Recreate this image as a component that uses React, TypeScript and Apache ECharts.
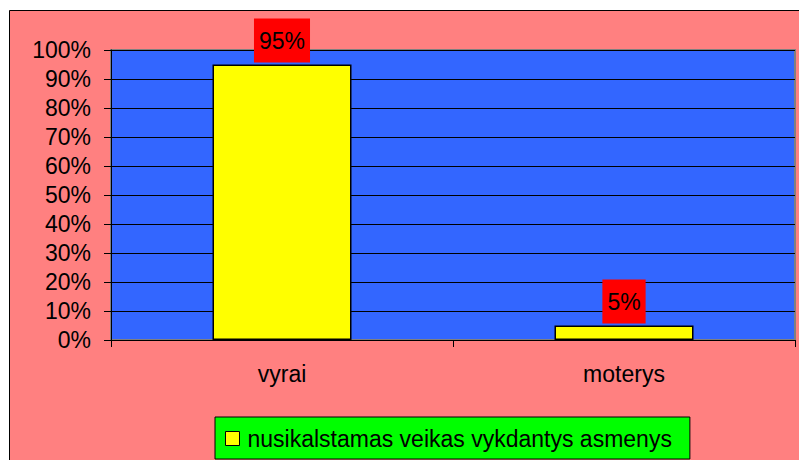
import React, { useEffect, useRef } from "react";
import * as echarts from "echarts";

const categories = ["vyrai", "moterys"];
const values = [95, 5];
const seriesName = "nusikalstamas veikas vykdantys asmenys";
const yMin = 0;
const yMax = 100;
const yInterval = 10;

const FONT = "'Liberation Sans', Arial, sans-serif";

export default function App() {
  const ref = useRef<HTMLDivElement>(null);
  useEffect(() => {
    if (!ref.current) return;
    const chart = echarts.init(ref.current, undefined, { renderer: "svg" });
    chart.setOption({
      animation: false,
      backgroundColor: "#FFFFFF",
      textStyle: { fontFamily: FONT },
      graphic: [
        {
          type: "rect",
          z: -10,
          silent: true,
          shape: { x: 9.5, y: 10.5, width: 800, height: 460 },
          style: { fill: "#FF8080", stroke: "#000000", lineWidth: 1 },
        },
      ],
      grid: {
        left: 111,
        top: 50,
        right: 4,
        bottom: 120,
        show: true,
        backgroundColor: "#3366FF",
        borderColor: "#808080",
        borderWidth: 2,
      },
      legend: {
        left: 215,
        top: 417,
        backgroundColor: "#00FF00",
        borderColor: "#000000",
        borderWidth: 1,
        padding: [10, 18, 9, 10],
        icon: "rect",
        itemWidth: 14,
        itemHeight: 14,
        itemStyle: { borderColor: "#000000", borderWidth: 1 },
        textStyle: {
          fontSize: 23,
          color: "#000000",
          fontFamily: FONT,
          padding: [0, 0, 0, 3],
        },
        data: [seriesName],
      },
      xAxis: {
        type: "category",
        data: categories,
        boundaryGap: true,
        axisLine: { show: true, lineStyle: { color: "#000000", width: 1 } },
        axisTick: { show: true, length: 7, alignWithLabel: false, lineStyle: { color: "#000000" } },
        axisLabel: { fontSize: 23, color: "#000000", margin: 22, fontFamily: FONT },
      },
      yAxis: {
        type: "value",
        min: yMin,
        max: yMax,
        interval: yInterval,
        axisLine: { show: true, lineStyle: { color: "#000000", width: 1 } },
        axisTick: { show: true, length: 7, lineStyle: { color: "#000000" } },
        axisLabel: {
          fontSize: 23,
          color: "#000000",
          margin: 20,
          formatter: "{value}%",
          fontFamily: FONT,
        },
        splitLine: { show: true, lineStyle: { color: "#000000", width: 1 } },
      },
      series: [
        {
          name: seriesName,
          type: "bar",
          data: values,
          barWidth: 139,
          itemStyle: { color: "#FFFF00", borderColor: "#000000", borderWidth: 1.5 },
          label: {
            show: true,
            position: "top",
            distance: 2,
            formatter: "{c}%",
            fontSize: 23,
            color: "#000000",
            fontFamily: FONT,
            backgroundColor: "#FF0000",
            padding: [11, 5, 10, 5],
          },
        },
      ],
    });
    return () => chart.dispose();
  }, []);
  return (
    <div
      ref={ref}
      style={{ position: "absolute", left: 0, top: 0, width: 799, height: 460 }}
    />
  );
}
